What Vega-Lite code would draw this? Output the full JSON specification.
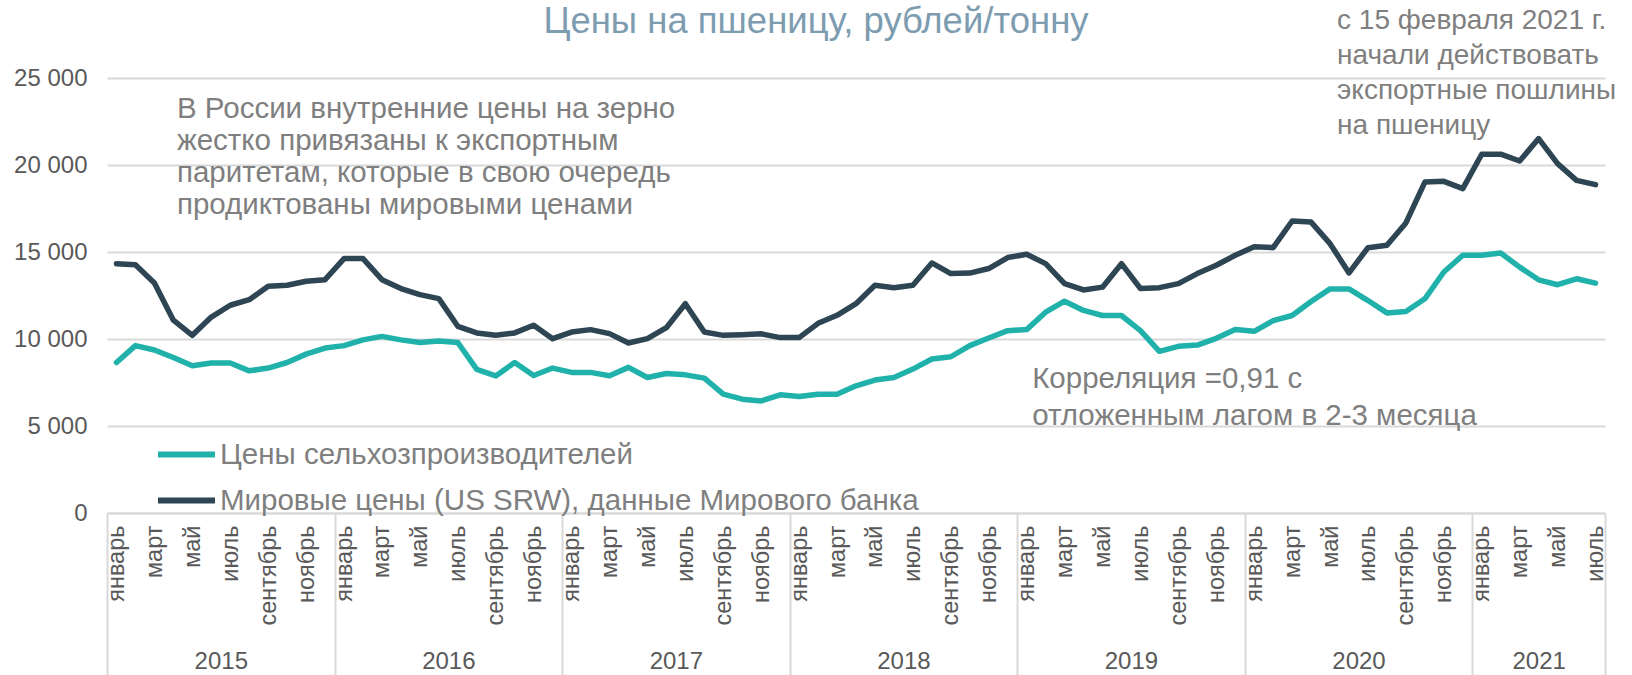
{
  "$schema": "https://vega.github.io/schema/vega-lite/v6.json",
  "width": 1498,
  "height": 435,
  "autosize": {"type": "none"},
  "padding": {"left": 107, "top": 78, "right": 27, "bottom": 162},
  "background": "white",
  "config": {"view": {"stroke": null}, "font": "Liberation Sans"},
  "title": {"text": "Цены на пшеницу, рублей/тонну", "fontSize": 36.5, "font": "Liberation Sans", "fontWeight": "normal", "color": "#7d9cb0", "anchor": "middle", "dx": -40, "offset": -34},
  "datasets": {
    "prices": [
      {"i":0,"s":"farm","v":8650},{"i":1,"s":"farm","v":9620},{"i":2,"s":"farm","v":9370},{"i":3,"s":"farm","v":8940},{"i":4,"s":"farm","v":8460},{"i":5,"s":"farm","v":8620},{"i":6,"s":"farm","v":8620},{"i":7,"s":"farm","v":8170},{"i":8,"s":"farm","v":8330},{"i":9,"s":"farm","v":8650},{"i":10,"s":"farm","v":9130},{"i":11,"s":"farm","v":9480},
      {"i":12,"s":"farm","v":9620},{"i":13,"s":"farm","v":9950},{"i":14,"s":"farm","v":10150},{"i":15,"s":"farm","v":9950},{"i":16,"s":"farm","v":9800},{"i":17,"s":"farm","v":9880},{"i":18,"s":"farm","v":9800},{"i":19,"s":"farm","v":8250},{"i":20,"s":"farm","v":7880},{"i":21,"s":"farm","v":8650},{"i":22,"s":"farm","v":7900},{"i":23,"s":"farm","v":8330},
      {"i":24,"s":"farm","v":8080},{"i":25,"s":"farm","v":8080},{"i":26,"s":"farm","v":7890},{"i":27,"s":"farm","v":8370},{"i":28,"s":"farm","v":7790},{"i":29,"s":"farm","v":8020},{"i":30,"s":"farm","v":7940},{"i":31,"s":"farm","v":7750},{"i":32,"s":"farm","v":6830},{"i":33,"s":"farm","v":6540},{"i":34,"s":"farm","v":6440},{"i":35,"s":"farm","v":6790},
      {"i":36,"s":"farm","v":6690},{"i":37,"s":"farm","v":6830},{"i":38,"s":"farm","v":6830},{"i":39,"s":"farm","v":7310},{"i":40,"s":"farm","v":7640},{"i":41,"s":"farm","v":7790},{"i":42,"s":"farm","v":8270},{"i":43,"s":"farm","v":8850},{"i":44,"s":"farm","v":8980},{"i":45,"s":"farm","v":9620},{"i":46,"s":"farm","v":10060},{"i":47,"s":"farm","v":10480},
      {"i":48,"s":"farm","v":10540},{"i":49,"s":"farm","v":11540},{"i":50,"s":"farm","v":12170},{"i":51,"s":"farm","v":11640},{"i":52,"s":"farm","v":11350},{"i":53,"s":"farm","v":11350},{"i":54,"s":"farm","v":10480},{"i":55,"s":"farm","v":9290},{"i":56,"s":"farm","v":9580},{"i":57,"s":"farm","v":9650},{"i":58,"s":"farm","v":10040},{"i":59,"s":"farm","v":10540},
      {"i":60,"s":"farm","v":10440},{"i":61,"s":"farm","v":11060},{"i":62,"s":"farm","v":11350},{"i":63,"s":"farm","v":12150},{"i":64,"s":"farm","v":12880},{"i":65,"s":"farm","v":12880},{"i":66,"s":"farm","v":12210},{"i":67,"s":"farm","v":11500},{"i":68,"s":"farm","v":11580},{"i":69,"s":"farm","v":12310},{"i":70,"s":"farm","v":13850},{"i":71,"s":"farm","v":14810},
      {"i":72,"s":"farm","v":14810},{"i":73,"s":"farm","v":14940},{"i":74,"s":"farm","v":14130},{"i":75,"s":"farm","v":13400},{"i":76,"s":"farm","v":13120},{"i":77,"s":"farm","v":13460},{"i":78,"s":"farm","v":13210},
      {"i":0,"s":"world","v":14330},{"i":1,"s":"world","v":14270},{"i":2,"s":"world","v":13220},{"i":3,"s":"world","v":11080},{"i":4,"s":"world","v":10210},{"i":5,"s":"world","v":11260},{"i":6,"s":"world","v":11940},{"i":7,"s":"world","v":12260},{"i":8,"s":"world","v":13030},{"i":9,"s":"world","v":13090},{"i":10,"s":"world","v":13320},{"i":11,"s":"world","v":13410},
      {"i":12,"s":"world","v":14620},{"i":13,"s":"world","v":14620},{"i":14,"s":"world","v":13410},{"i":15,"s":"world","v":12900},{"i":16,"s":"world","v":12550},{"i":17,"s":"world","v":12320},{"i":18,"s":"world","v":10730},{"i":19,"s":"world","v":10350},{"i":20,"s":"world","v":10210},{"i":21,"s":"world","v":10350},{"i":22,"s":"world","v":10790},{"i":23,"s":"world","v":10020},
      {"i":24,"s":"world","v":10400},{"i":25,"s":"world","v":10540},{"i":26,"s":"world","v":10310},{"i":27,"s":"world","v":9770},{"i":28,"s":"world","v":10020},{"i":29,"s":"world","v":10650},{"i":30,"s":"world","v":12030},{"i":31,"s":"world","v":10400},{"i":32,"s":"world","v":10210},{"i":33,"s":"world","v":10250},{"i":34,"s":"world","v":10300},{"i":35,"s":"world","v":10080},
      {"i":36,"s":"world","v":10080},{"i":37,"s":"world","v":10900},{"i":38,"s":"world","v":11360},{"i":39,"s":"world","v":12030},{"i":40,"s":"world","v":13090},{"i":41,"s":"world","v":12950},{"i":42,"s":"world","v":13090},{"i":43,"s":"world","v":14370},{"i":44,"s":"world","v":13760},{"i":45,"s":"world","v":13790},{"i":46,"s":"world","v":14050},{"i":47,"s":"world","v":14680},
      {"i":48,"s":"world","v":14870},{"i":49,"s":"world","v":14330},{"i":50,"s":"world","v":13180},{"i":51,"s":"world","v":12820},{"i":52,"s":"world","v":12980},{"i":53,"s":"world","v":14330},{"i":54,"s":"world","v":12900},{"i":55,"s":"world","v":12950},{"i":56,"s":"world","v":13180},{"i":57,"s":"world","v":13760},{"i":58,"s":"world","v":14240},{"i":59,"s":"world","v":14810},
      {"i":60,"s":"world","v":15300},{"i":61,"s":"world","v":15250},{"i":62,"s":"world","v":16780},{"i":63,"s":"world","v":16720},{"i":64,"s":"world","v":15480},{"i":65,"s":"world","v":13800},{"i":66,"s":"world","v":15250},{"i":67,"s":"world","v":15390},{"i":68,"s":"world","v":16670},{"i":69,"s":"world","v":19020},{"i":70,"s":"world","v":19060},{"i":71,"s":"world","v":18640},
      {"i":72,"s":"world","v":20620},{"i":73,"s":"world","v":20620},{"i":74,"s":"world","v":20230},{"i":75,"s":"world","v":21520},{"i":76,"s":"world","v":20080},{"i":77,"s":"world","v":19120},{"i":78,"s":"world","v":18870}
    ],
    "note1": [{"x": 3.19, "y": 24046, "t": "В России внутренние цены на зерно\nжестко привязаны к экспортным\nпаритетам, которые в свою очередь\nпродиктованы мировыми ценами"}],
    "note2": [{"x": 64.37, "y": 29100, "t": "с 15 февраля 2021 г.\nначали действовать\nэкспортные пошлины\nна пшеницу"}],
    "note3": [{"x": 48.29, "y": 8500, "t": "Корреляция =0,91 с\nотложенным лагом в 2-3 месяца"}]
  },
  "layer": [
    {
      "data": {"name": "prices"},
      "mark": {"type": "line", "strokeWidth": 5.5, "strokeJoin": "round", "strokeCap": "round"},
      "encoding": {
        "x": {"field": "i", "type": "quantitative", "title": null,
              "scale": {"domain": [-0.5, 78.5], "nice": false, "zero": false},
              "axis": {"orient": "bottom", "values": [0,2,4,6,8,10,12,14,16,18,20,22,24,26,28,30,32,34,36,38,40,42,44,46,48,50,52,54,56,58,60,62,64,66,68,70,72,74,76,78],
                       "labelExpr": "['январь','февраль','март','апрель','май','июнь','июль','август','сентябрь','октябрь','ноябрь','декабрь'][datum.value % 12]",
                       "labelAngle": 270, "labelAlign": "right", "labelBaseline": "middle", "labelFontSize": 23.5, "labelColor": "#595959", "labelPadding": 12,
                       "ticks": false, "domain": true, "domainColor": "#d9d9d9", "domainWidth": 2, "grid": false,
                       "labelOverlap": false, "labelBound": false, "labelFlush": false}},
        "y": {"field": "v", "type": "quantitative", "title": null,
              "scale": {"domain": [0, 25000], "nice": false, "zero": true},
              "axis": {"values": [0,5000,10000,15000,20000,25000], "labelExpr": "replace(format(datum.value, ','), ',', ' ')",
                       "labelFontSize": 24, "labelColor": "#595959", "labelPadding": 20, "ticks": false, "domain": false,
                       "grid": true, "gridColor": "#d9d9d9", "gridWidth": 2}},
        "color": {"field": "s", "type": "nominal",
                  "scale": {"domain": ["farm", "world"], "range": ["#20b2aa", "#2e4553"]},
                  "legend": {"orient": "none", "legendX": 48, "legendY": 345, "title": null, "padding": 0,
                             "labelExpr": "datum.label == 'farm' ? 'Цены сельхозпроизводителей' : 'Мировые цены (US SRW), данные Мирового банка'",
                             "symbolType": "stroke", "symbolSize": 3249, "symbolStrokeWidth": 6,
                             "labelFontSize": 29.5, "labelColor": "#7f7f7f", "labelOffset": 2, "labelLimit": 0, "rowPadding": -16}}
      }
    },
    {
      "data": {"name": "note1"},
      "mark": {"type": "text", "align": "left", "baseline": "top", "fontSize": 29.5, "color": "#7f7f7f", "lineBreak": "\n", "lineHeight": 32.3},
      "encoding": {
        "x": {"field": "x", "type": "quantitative", "title": null,
              "scale": {"domain": [-0.5, 78.5], "nice": false, "zero": false},
              "axis": {"orient": "bottom", "values": [-0.5, 11.5, 23.5, 35.5, 47.5, 59.5, 71.5, 78.5], "labels": false, "ticks": true, "tickSize": 162,
                       "tickColor": "#d9d9d9", "tickWidth": 2, "domain": false, "grid": false}},
        "y": {"field": "y", "type": "quantitative", "title": null,
              "scale": {"domain": [0, 25000], "nice": false, "zero": true},
              "axis": {"values": [0,5000,10000,15000,20000,25000], "labelExpr": "replace(format(datum.value, ','), ',', ' ')",
                       "labelFontSize": 24, "labelColor": "#595959", "labelPadding": 20, "ticks": false, "domain": false,
                       "grid": true, "gridColor": "#d9d9d9", "gridWidth": 2}},
        "text": {"field": "t", "type": "nominal"}
      }
    },
    {
      "data": {"name": "note2"},
      "mark": {"type": "text", "align": "left", "baseline": "top", "fontSize": 28, "color": "#7f7f7f", "lineBreak": "\n", "lineHeight": 35},
      "encoding": {
        "x": {"field": "x", "type": "quantitative", "title": null,
              "scale": {"domain": [-0.5, 78.5], "nice": false, "zero": false},
              "axis": {"orient": "bottom", "values": [5.5, 17.5, 29.5, 41.5, 53.5, 65.5, 75], "labelExpr": "'' + (floor(datum.value / 12) + 2015)",
                       "labelAngle": 0, "labelAlign": "center", "labelBaseline": "top", "labelFontSize": 24, "labelColor": "#595959", "labelPadding": 136,
                       "ticks": false, "domain": false, "grid": false, "labelOverlap": false, "labelFlush": false}},
        "y": {"field": "y", "type": "quantitative", "title": null,
              "scale": {"domain": [0, 25000], "nice": false, "zero": true},
              "axis": {"values": [0,5000,10000,15000,20000,25000], "labelExpr": "replace(format(datum.value, ','), ',', ' ')",
                       "labelFontSize": 24, "labelColor": "#595959", "labelPadding": 20, "ticks": false, "domain": false,
                       "grid": true, "gridColor": "#d9d9d9", "gridWidth": 2}},
        "text": {"field": "t", "type": "nominal"}
      }
    },
    {
      "data": {"name": "note3"},
      "mark": {"type": "text", "align": "left", "baseline": "top", "fontSize": 29.5, "color": "#7f7f7f", "lineBreak": "\n", "lineHeight": 37.4},
      "encoding": {
        "x": {"field": "x", "type": "quantitative", "title": null,
              "scale": {"domain": [-0.5, 78.5], "nice": false, "zero": false}, "axis": null},
        "y": {"field": "y", "type": "quantitative", "title": null,
              "scale": {"domain": [0, 25000], "nice": false, "zero": true},
              "axis": {"values": [0,5000,10000,15000,20000,25000], "labelExpr": "replace(format(datum.value, ','), ',', ' ')",
                       "labelFontSize": 24, "labelColor": "#595959", "labelPadding": 20, "ticks": false, "domain": false,
                       "grid": true, "gridColor": "#d9d9d9", "gridWidth": 2}},
        "text": {"field": "t", "type": "nominal"}
      }
    }
  ],
  "resolve": {"axis": {"x": "independent"}}
}
